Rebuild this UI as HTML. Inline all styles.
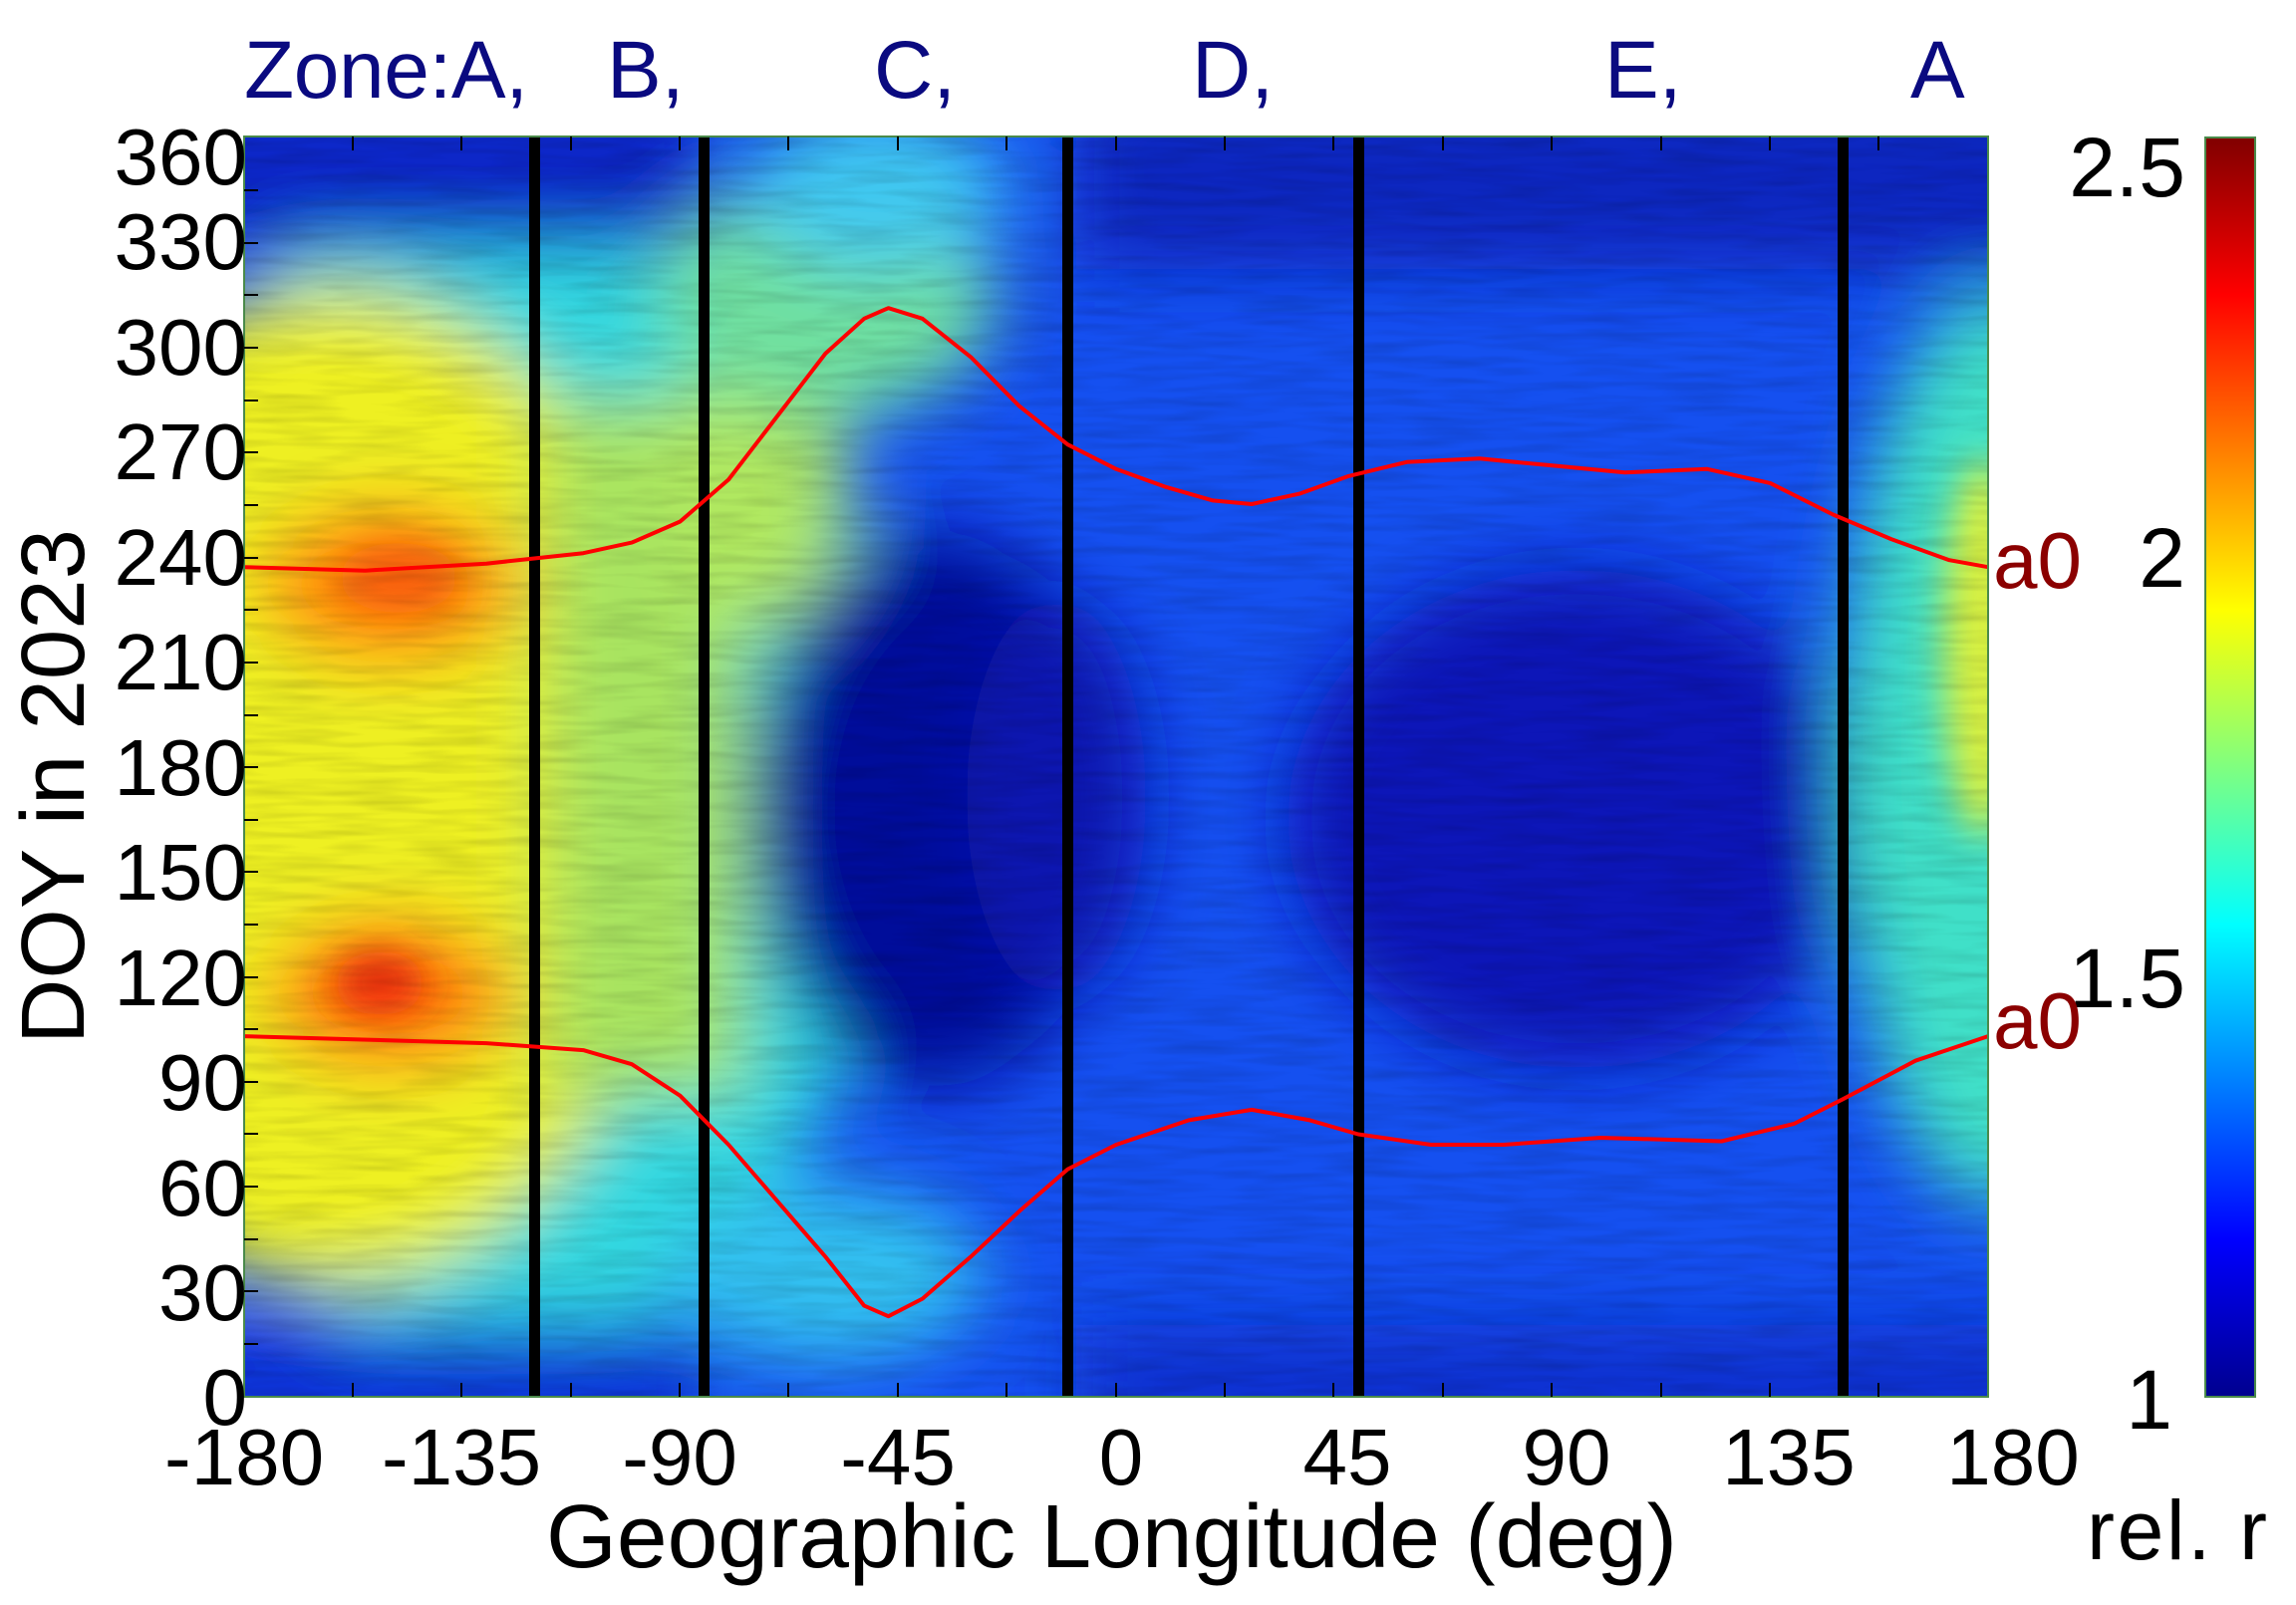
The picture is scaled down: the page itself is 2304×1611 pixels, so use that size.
<!DOCTYPE html>
<html><head><meta charset="utf-8"><style>html,body{margin:0;padding:0;background:#fff;}svg{display:block;}</style></head>
<body>
<svg width="2304" height="1611" viewBox="0 0 2304 1611" xmlns="http://www.w3.org/2000/svg" font-family="Liberation Sans, Arial, sans-serif">
<defs>
<clipPath id="pc"><rect x="245" y="137" width="1750" height="1265"/></clipPath>
<filter id="bl" x="-20%" y="-20%" width="140%" height="140%"><feGaussianBlur stdDeviation="35"/></filter>
<filter id="bl2" x="-20%" y="-20%" width="140%" height="140%"><feGaussianBlur stdDeviation="18"/></filter>
<filter id="tex" x="0" y="0" width="100%" height="100%"><feTurbulence type="fractalNoise" baseFrequency="0.012 0.12" numOctaves="2" seed="3"/><feColorMatrix type="matrix" values="0 0 0 0 0  0 0 0 0 0  0 0 0 0 0  0 0 0 1.2 -0.45"/></filter>
<linearGradient id="jet" x1="0" y1="1" x2="0" y2="0">
<stop offset="0" stop-color="#00008F"/><stop offset="0.125" stop-color="#0000FF"/><stop offset="0.375" stop-color="#00FFFF"/><stop offset="0.625" stop-color="#FFFF00"/><stop offset="0.875" stop-color="#FF0000"/><stop offset="1" stop-color="#800000"/>
</linearGradient>
</defs>
<g clip-path="url(#pc)">
<rect x="245" y="137" width="1750" height="1265" fill="#1550f0"/>
<g filter="url(#bl)">
<ellipse cx="500" cy="770" rx="400" ry="600" fill="#30d8e0"/>
<ellipse cx="330" cy="790" rx="360" ry="500" fill="#eef020"/>
<rect x="545" y="400" width="200" height="700" fill="#a8e460"/>
<ellipse cx="760" cy="480" rx="90" ry="150" fill="#b0e860"/>
<ellipse cx="391" cy="587" rx="130" ry="80" fill="#ff8a10"/>
<ellipse cx="391" cy="998" rx="120" ry="75" fill="#ff7810"/>
<rect x="150" y="80" width="560" height="170" fill="#0a28c8"/>
<rect x="150" y="1330" width="560" height="130" fill="#0a30d8"/>
<ellipse cx="828" cy="300" rx="170" ry="120" fill="#70e0a0"/>
<ellipse cx="880" cy="190" rx="130" ry="80" fill="#40c8f0"/>
<ellipse cx="828" cy="1279" rx="160" ry="90" fill="#30c0f0"/>
<rect x="1080" y="80" width="1000" height="190" fill="#0a28c0"/>
<rect x="1080" y="1330" width="1000" height="120" fill="#0a30d0"/>
<ellipse cx="1582" cy="822" rx="290" ry="250" fill="#0818b8"/>
<ellipse cx="2000" cy="752" rx="150" ry="460" fill="#40e0c8"/>
<ellipse cx="935" cy="812" rx="180" ry="280" fill="#000a9a"/>
<ellipse cx="1060" cy="800" rx="90" ry="200" fill="#0818b0"/>
</g>
<g filter="url(#bl2)">
<ellipse cx="381" cy="987" rx="45" ry="32" fill="#f03010"/>
<ellipse cx="400" cy="580" rx="60" ry="35" fill="#f86010"/>
<ellipse cx="1990" cy="650" rx="40" ry="190" fill="#d8f040"/>
</g>
<rect x="245" y="137" width="1750" height="1265" filter="url(#tex)" opacity="0.2"/>
</g>
<g fill="#000">
<rect x="531" y="137" width="11" height="1265"/>
<rect x="701" y="137" width="11" height="1265"/>
<rect x="1066" y="137" width="11" height="1265"/>
<rect x="1358" y="137" width="11" height="1265"/>
<rect x="1844" y="137" width="11" height="1265"/>
</g>
<g fill="none" stroke="#ff0000" stroke-width="4" stroke-linejoin="round">
<polyline points="245,569.2 366.5,572.7 488,565.7 585.3,555.2 634,544.6 682.5,523.5 731.1,481.4 779.7,418.1 828.3,354.9 867.2,319.8 891.5,309.2 925.6,319.8 974.2,358.4 1022.8,407.6 1071.4,446.2 1120,470.8 1168.6,488.4 1217.2,502.4 1256.1,506 1304.7,495.4 1353.3,477.9 1411.7,463.8 1484.6,460.3 1557.5,467.3 1630.4,474.3 1713.1,470.8 1776.3,484.9 1839.4,516.5 1897.8,541.1 1956.1,562.2 1995,569.2"/>
<polyline points="245,1040.1 488,1047.1 585.3,1054.1 634,1068.2 682.5,1099.8 731.1,1149 779.7,1205.2 828.3,1261.4 867.2,1310.6 891.5,1321.2 925.6,1303.6 974.2,1261.4 1022.8,1215.8 1071.4,1173.6 1120,1149 1192.9,1124.4 1256.1,1113.9 1314.4,1124.4 1363,1138.5 1435.9,1149 1508.8,1149 1606.1,1142 1727.6,1145.5 1800.5,1127.9 1849.2,1103.3 1922.1,1064.7 1995,1040.1"/>
</g>
<rect x="245" y="137" width="1750" height="1265" fill="none" stroke="#4a8a4a" stroke-width="2"/>
<g stroke="#000" stroke-width="2">
<path d="M354,1402v-14M463,1402v-14M573,1402v-14M682,1402v-14M791,1402v-14M901,1402v-14M1010,1402v-14M1120,1402v-14M1229,1402v-14M1338,1402v-14M1448,1402v-14M1557,1402v-14M1667,1402v-14M1776,1402v-14M1885,1402v-14"/>
<path d="M354,137v14M463,137v14M573,137v14M682,137v14M791,137v14M901,137v14M1010,137v14M1120,137v14M1229,137v14M1338,137v14M1448,137v14M1557,137v14M1667,137v14M1776,137v14M1885,137v14"/>
<path d="M245,1349h14M245,1296h14M245,1244h14M245,1191h14M245,1138h14M245,1086h14M245,1033h14M245,981h14M245,928h14M245,875h14M245,823h14M245,770h14M245,718h14M245,665h14M245,612h14M245,560h14M245,507h14M245,454h14M245,402h14M245,349h14M245,296h14M245,244h14M245,191h14"/>
<path d="M2213,559h16M2213,770h10M2213,981h16M2213,1192h10M2213,348h10"/>
</g>
<rect x="2213" y="138" width="50" height="1264" fill="url(#jet)" stroke="#4a8a4a" stroke-width="2"/>
<g font-size="84" fill="#000" text-anchor="end">
<text x="2193" y="197">2.5</text>
<text x="2193" y="589">2</text>
<text x="2193" y="1011">1.5</text>
<text x="2180" y="1434">1</text>
</g>
<text x="2094" y="1565" font-size="84" fill="#000" textLength="181">rel. r</text>
<g font-size="80" fill="#8b0000">
<text x="2000" y="590">a0</text>
<text x="2000" y="1052">a0</text>
</g>
<g font-size="80" fill="#000" text-anchor="end">
<text x="248" y="1430">0</text>
<text x="248" y="1325">30</text>
<text x="248" y="1220">60</text>
<text x="248" y="1114">90</text>
<text x="248" y="1009">120</text>
<text x="248" y="903">150</text>
<text x="248" y="798">180</text>
<text x="248" y="692">210</text>
<text x="248" y="587">240</text>
<text x="248" y="481">270</text>
<text x="248" y="376">300</text>
<text x="248" y="270">330</text>
<text x="248" y="185">360</text>
</g>
<g font-size="80" fill="#000" text-anchor="middle">
<text x="245" y="1490">-180</text>
<text x="463" y="1490">-135</text>
<text x="682" y="1490">-90</text>
<text x="901" y="1490">-45</text>
<text x="1125" y="1490">0</text>
<text x="1352" y="1490">45</text>
<text x="1572" y="1490">90</text>
<text x="1795" y="1490">135</text>
<text x="2020" y="1490">180</text>
</g>
<text x="548" y="1573" font-size="90" fill="#000" textLength="1135" lengthAdjust="spacingAndGlyphs">Geographic Longitude (deg)</text>
<text transform="translate(84,1048) rotate(-90)" font-size="90" fill="#000" textLength="517" lengthAdjust="spacingAndGlyphs">DOY in 2023</text>
<g font-size="82" fill="#0a0a80">
<text x="245" y="98" textLength="285">Zone:A,</text>
<text x="609" y="98">B,</text>
<text x="877" y="98">C,</text>
<text x="1196" y="98">D,</text>
<text x="1610" y="98">E,</text>
<text x="1917" y="98">A</text>
</g>
</svg>
</body></html>
